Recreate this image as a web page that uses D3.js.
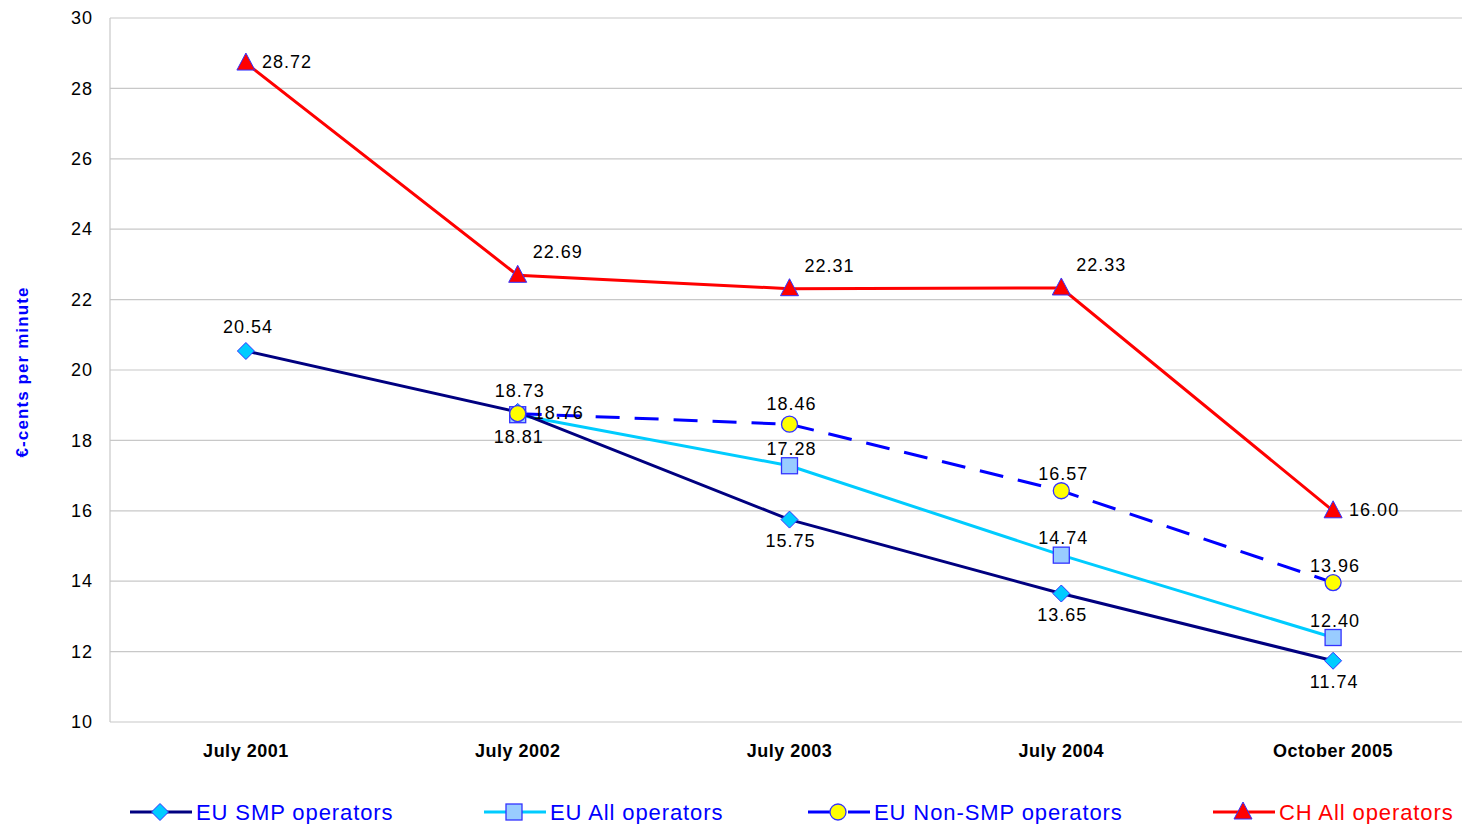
<!DOCTYPE html>
<html><head><meta charset="utf-8">
<script src="https://cdn.jsdelivr.net/npm/d3@7"></script>
<style>html,body{margin:0;padding:0;background:#fff;overflow:hidden}</style>
</head><body>
<svg id="c" width="1462" height="824"></svg>
<script>
const categories = ["July 2001","July 2002","July 2003","July 2004","October 2005"];
const yTicks = [10,12,14,16,18,20,22,24,26,28,30];
const euSmp = [20.54, 18.81, 15.75, 13.65, 11.74];
const euAll = [null, 18.73, 17.28, 14.74, 12.40];
const euNonSmp = [null, 18.76, 18.46, 16.57, 13.96];
const chAll = [28.72, 22.69, 22.31, 22.33, 16.00];
const seriesNames = ["EU SMP operators","EU All operators","EU Non-SMP operators","CH All operators"];

const series = [
  {name: seriesNames[0], values: euSmp, color:"#000080", dash:null, marker:"diamond", mfill:"#00ccff", mstroke:"#3333ff", text:"#0000ff",
   lab:["aboveFar","belowFar","below","below","below"]},
  {name: seriesNames[1], values: euAll, color:"#00ccff", dash:null, marker:"square", mfill:"#99ccff", mstroke:"#3333ff", text:"#0000ff",
   lab:[null,"aboveFar","above","above","above"]},
  {name: seriesNames[2], values: euNonSmp, color:"#0000ff", dash:"24,15", marker:"circle", mfill:"#ffff00", mstroke:"#3333ff", text:"#0000ff",
   lab:[null,"right","aboveMid","above","above"]},
  {name: seriesNames[3], values: chAll, color:"#ff0000", dash:null, marker:"triangle", mfill:"#ff0000", mstroke:"#3333ff", text:"#ff0000",
   lab:["right","aboveright","aboveright","aboveright","right"]}
];

const svg = d3.select("#c");
const pLeft = 110, pRight = 1469, pTop = 18, pBottom = 722;
const x = d3.scaleBand().domain(categories).range([pLeft, pRight]);
const xc = c => x(c) + x.bandwidth()/2;
const y = d3.scaleLinear().domain([10,30]).range([pBottom, pTop]);
const FONT = "Liberation Sans, Arial, sans-serif";

// gridlines
svg.append("g").selectAll("line").data(yTicks).join("line")
  .attr("x1", pLeft).attr("x2", pRight).attr("y1", d=>y(d)).attr("y2", d=>y(d))
  .attr("stroke","#c8c8c8").attr("stroke-width",1.2);
svg.append("line").attr("x1",pLeft).attr("x2",pLeft).attr("y1",pTop).attr("y2",pBottom)
  .attr("stroke","#c8c8c8").attr("stroke-width",1.2);

// y axis
const yAxis = svg.append("g").attr("transform",`translate(${pLeft},0)`)
  .call(d3.axisLeft(y).tickValues(yTicks).tickSize(0).tickPadding(17));
yAxis.select(".domain").remove();
yAxis.selectAll("text").attr("font-family",FONT).attr("font-size",18).attr("letter-spacing",1).attr("fill","#000");

// x axis
const xAxis = svg.append("g").attr("transform",`translate(0,${pBottom})`)
  .call(d3.axisBottom(x).tickSize(0).tickPadding(22));
xAxis.select(".domain").remove();
xAxis.selectAll("text").attr("font-family",FONT).attr("font-size",18).attr("letter-spacing",0.5)
  .attr("font-weight","bold").attr("fill","#000");

// y title
svg.append("text").attr("transform","translate(28,372) rotate(-90)").attr("text-anchor","middle")
  .attr("font-family",FONT).attr("font-size",17).attr("letter-spacing",1.1).attr("font-weight","bold")
  .attr("fill","#0000ff").text("€-cents per minute");

function drawMarker(g, type, cx, cy, fill, stroke){
  if(type==="diamond"){
    g.append("path").attr("d",`M${cx},${cy-8.5}L${cx+8.5},${cy}L${cx},${cy+8.5}L${cx-8.5},${cy}Z`)
      .attr("fill",fill).attr("stroke",stroke).attr("stroke-width",1);
  } else if(type==="square"){
    g.append("rect").attr("x",cx-8).attr("y",cy-8).attr("width",16).attr("height",16)
      .attr("fill",fill).attr("stroke",stroke).attr("stroke-width",1.3);
  } else if(type==="circle"){
    g.append("circle").attr("cx",cx).attr("cy",cy).attr("r",8)
      .attr("fill",fill).attr("stroke",stroke).attr("stroke-width",1.3);
  } else {
    g.append("path").attr("d",`M${cx},${cy-10}L${cx+9},${cy+7}L${cx-9},${cy+7}Z`)
      .attr("fill",fill).attr("stroke",stroke).attr("stroke-width",1);
  }
}

const line = d3.line().defined(d=>d.v!=null).x(d=>xc(d.c)).y(d=>y(d.v));
const order = [1,0,2,3];
order.forEach(i=>{
  const s = series[i];
  const pts = s.values.map((v,j)=>({c:categories[j], v}));
  svg.append("path").datum(pts).attr("d",line).attr("fill","none")
    .attr("stroke",s.color).attr("stroke-width",3).attr("stroke-dasharray",s.dash);
});
order.forEach(i=>{
  const s = series[i];
  const g = svg.append("g");
  s.values.forEach((v,j)=>{ if(v!=null) drawMarker(g, s.marker, xc(categories[j]), y(v), s.mfill, s.mstroke); });
});
// label placement offsets (dx, dy, anchor)
const placement = {
  above:[2,-11,"middle"], aboveMid:[2,-14,"middle"], aboveFar:[2,-18,"middle"],
  below:[1,27,"middle"], belowFar:[1,31,"middle"],
  right:[16,5,"start"], aboveright:[15,-17,"start"]
};
series.forEach(s=>{
  s.values.forEach((v,j)=>{
    if(v==null) return;
    const cx = xc(categories[j]), cy = y(v);
    const [dx,dy,anchor] = placement[s.lab[j]];
    svg.append("text").attr("x",cx+dx).attr("y",cy+dy).attr("text-anchor",anchor)
      .attr("font-family",FONT).attr("font-size",18).attr("letter-spacing",1).attr("fill","#000")
      .text(v.toFixed(2));
  });
});

// legend
const legX = [130, 484, 808, 1213];
series.forEach((s,i)=>{
  const g = svg.append("g").attr("transform",`translate(${legX[i]},812)`);
  if(s.dash){
    g.append("line").attr("x1",0).attr("x2",22).attr("y1",0).attr("y2",0).attr("stroke",s.color).attr("stroke-width",3);
    g.append("line").attr("x1",40).attr("x2",62).attr("y1",0).attr("y2",0).attr("stroke",s.color).attr("stroke-width",3);
  } else {
    g.append("line").attr("x1",0).attr("x2",62).attr("y1",0).attr("y2",0).attr("stroke",s.color).attr("stroke-width",3);
  }
  drawMarker(g, s.marker, 30, 0, s.mfill, s.mstroke);
  g.append("text").attr("x",66).attr("y",8).attr("font-family",FONT)
    .attr("font-size",22).attr("letter-spacing",0.9).attr("fill",s.text).text(s.name);
});
</script>
</body></html>
